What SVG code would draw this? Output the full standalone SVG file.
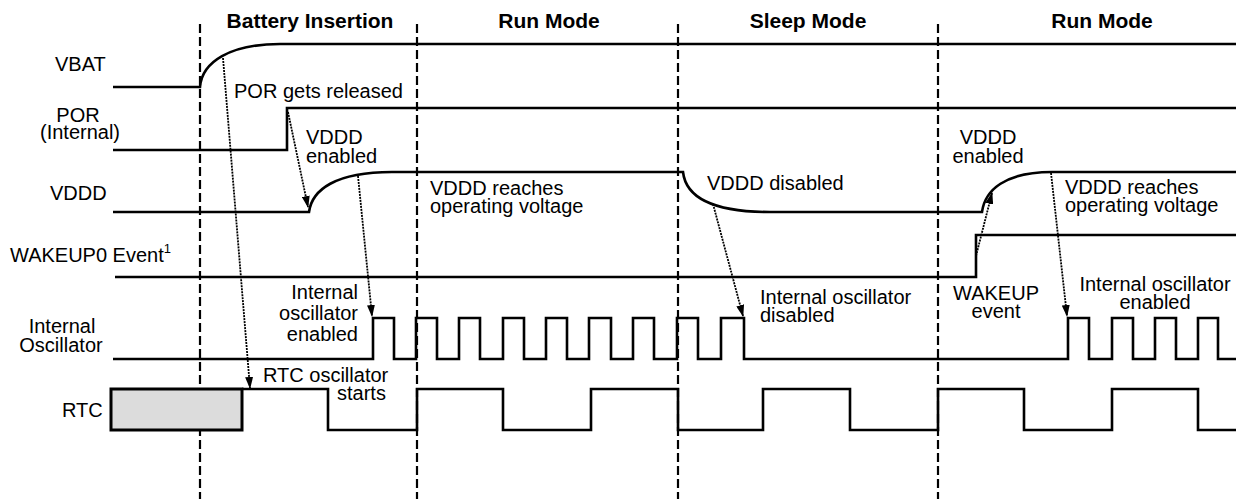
<svg xmlns="http://www.w3.org/2000/svg" width="1238" height="499" viewBox="0 0 1238 499">
<style>
text{font-family:"Liberation Sans",Arial,Helvetica,sans-serif;font-size:20px;fill:#000}
.hd{font-weight:bold;font-size:21px;text-anchor:middle}
.mid{text-anchor:middle}
.end{text-anchor:end}
.sig{fill:none;stroke:#000;stroke-width:2.6;stroke-linejoin:miter}
.div{stroke:#000;stroke-width:2.2;stroke-dasharray:9,4;fill:none}
.arr{stroke:#000;stroke-width:1.8;stroke-dasharray:2,1;fill:none;marker-end:url(#ah)}
</style>
<defs>
<marker id="ah" markerUnits="userSpaceOnUse" markerWidth="12" markerHeight="8" refX="11" refY="4" orient="auto">
<path d="M0,0 L12,4 L0,8 z" fill="#000"/>
</marker>
</defs>
<g id="headers">
<text class="hd" x="310" y="28">Battery Insertion</text>
<text class="hd" x="549" y="28">Run Mode</text>
<text class="hd" x="808" y="28">Sleep Mode</text>
<text class="hd" x="1102" y="28">Run Mode</text>
</g>
<g id="dividers">
<line class="div" x1="200" y1="24" x2="200" y2="499"/>
<line class="div" x1="417" y1="24" x2="417" y2="499"/>
<line class="div" x1="678" y1="24" x2="678" y2="499"/>
<line class="div" x1="938" y1="24" x2="938" y2="499"/>
</g>
<g id="vbat">
<text x="55" y="71">VBAT</text>
<path class="sig" d="M113,87 H200 C202,62 230,44 280,44 H1236"/>
</g>
<g id="por">
<text class="mid" x="78" y="122">POR</text>
<text class="mid" x="80" y="139">(Internal)</text>
<path class="sig" d="M113,150 H287 V108 H1236"/>
</g>
<g id="vddd">
<text x="50" y="200">VDDD</text>
<path class="sig" d="M113,212 H309 C312,190 335,172 392,172 H683 C686,198 715,212 770,212 H982 C985,190 1005,172 1052,172 H1236"/>
</g>
<g id="wakeup">
<text x="10" y="262">WAKEUP0 Event<tspan font-size="13" dy="-9">1</tspan></text>
<path class="sig" d="M115,277 H976 V235 H1236"/>
</g>
<g id="osc">
<text class="mid" x="62" y="333">Internal</text>
<text class="mid" x="61" y="352">Oscillator</text>
<path class="sig" d="M113,359 H373 V318 H394 V359 H416 V318 H437 V359 H459 V318 H480 V359 H503 V318 H524 V359 H546 V318 H567 V359 H589 V318 H611 V359 H633 V318 H654 V359 H677 V318 H698 V359 H721 V318 H744 V359 H1068 V318 H1089 V359 H1112 V318 H1133 V359 H1155 V318 H1176 V359 H1198 V318 H1218 V359 H1236"/>
</g>
<g id="rtc">
<text x="62" y="417">RTC</text>
<rect x="111" y="389" width="131" height="41" fill="#dcdcdc" stroke="#000" stroke-width="3"/>
<path class="sig" d="M242,389 H328 V430 H417 V389 H503 V430 H591 V389 H678 V430 H763 V389 H850 V430 H938 V389 H1024 V430 H1112 V389 H1198 V430 H1236"/>
</g>
<g id="annotations">
<text x="234" y="98">POR gets released</text>
<text x="306" y="144">VDDD</text>
<text x="306" y="163">enabled</text>
<text class="mid" x="988" y="144">VDDD</text>
<text class="mid" x="988" y="163">enabled</text>
<text x="430" y="195">VDDD reaches</text>
<text x="430" y="213">operating voltage</text>
<text x="707" y="190">VDDD disabled</text>
<text x="1065" y="194">VDDD reaches</text>
<text x="1065" y="212">operating voltage</text>
<text class="end" x="358" y="299">Internal</text>
<text class="end" x="358" y="320">oscillator</text>
<text class="end" x="358" y="341">enabled</text>
<text x="760" y="304">Internal oscillator</text>
<text x="760" y="322">disabled</text>
<text class="mid" x="996" y="300">WAKEUP</text>
<text class="mid" x="996" y="318">event</text>
<text class="mid" x="1155" y="291">Internal oscillator</text>
<text class="mid" x="1155" y="309">enabled</text>
<text x="263" y="382">RTC oscillator</text>
<text x="337" y="400">starts</text>
</g>
<g id="connectors">
<line class="arr" x1="223" y1="58" x2="250" y2="388"/>
<line class="arr" x1="288" y1="112" x2="308" y2="207"/>
<line class="arr" x1="358" y1="176" x2="372" y2="316"/>
<line class="arr" x1="713" y1="204" x2="743" y2="316"/>
<line class="arr" x1="976" y1="256" x2="992" y2="193"/>
<line class="arr" x1="1051" y1="173" x2="1067" y2="316"/>
</g>
</svg>
